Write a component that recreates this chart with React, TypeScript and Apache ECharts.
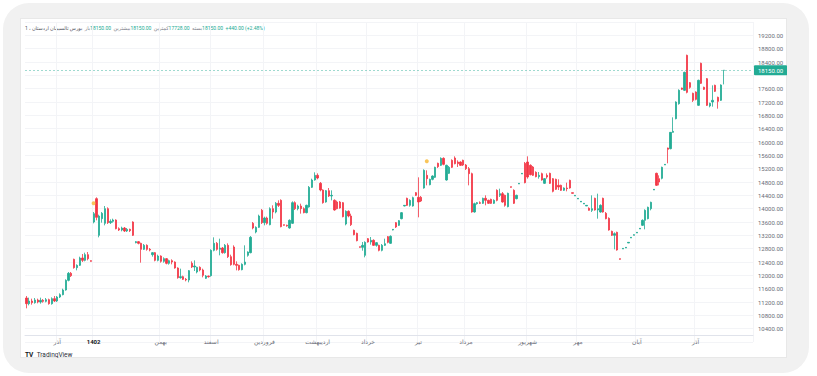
import React, { useEffect, useRef } from 'react';
import * as echarts from 'echarts';

// [open, close, low, high]
const barsBeforeAzar = [
  [11320, 11150, 11010, 11380], [11150, 11230, 11100, 11330], [11230, 11180, 11120, 11300],
  [11180, 11260, 11150, 11320], [11260, 11200, 11160, 11300], [11200, 11250, 11150, 11330],
  [11250, 11220, 11180, 11290], [11220, 11270, 11190, 11320], [11270, 11150, 11120, 11300],
  [11150, 11300, 11120, 11340], [11300, 11230, 11200, 11380],
];
const barsAzar = [
  [11230, 11350, 11200, 11380], [11350, 11420, 11320, 11460], [11420, 11560, 11400, 11600],
  [11560, 11850, 11540, 11880], [11850, 12060, 11820, 12100], [12060, 11990, 11950, 12100],
  [12480, 12230, 12200, 12500], [12230, 12300, 12150, 12330], [12300, 12520, 12280, 12560],
  [12520, 12450, 12400, 12640], [12450, 12620, 12420, 12680], [12620, 12500, 12450, 12700],
  [12440, 12420, 12410, 12450],
];
const barsDey = [
  [13600, 13850, 13560, 13900], [14300, 13740, 13650, 14340], [13200, 13780, 13140, 13820],
  [13700, 13860, 13580, 13900], [13560, 14000, 13500, 14080], [14000, 13580, 13540, 14040],
  [13580, 13620, 13540, 13680], [13620, 13660, 13580, 13700], [13660, 13400, 13380, 13680],
  [13400, 13360, 13330, 13440], [13360, 13420, 13320, 13460], [13420, 13330, 13300, 13450],
  [13330, 13380, 13300, 13420], [13380, 13340, 13300, 13400], [13600, 13200, 13180, 13620],
  [12980, 13010, 12960, 13030], [13010, 12960, 12930, 13030], [12960, 12780, 12380, 12980],
  [12780, 12900, 12760, 12940], [12900, 12780, 12740, 12930], [12780, 12760, 12720, 12820],
  [12620, 12680, 12560, 12700], [12680, 12450, 12420, 12700], [12450, 12580, 12420, 12620],
];
const barsBahman = [
  [12580, 12420, 12380, 12600], [12420, 12500, 12380, 12540], [12500, 12360, 12330, 12520],
  [12360, 12440, 12320, 12470], [12440, 12400, 12330, 12480], [12400, 12220, 12200, 12420],
  [12220, 11930, 11900, 12240], [11930, 11960, 11900, 12200], [11960, 11880, 11860, 11990],
  [11880, 11860, 11820, 11920], [11860, 12140, 11790, 12160], [12360, 12250, 12220, 12420],
  [12250, 12280, 12130, 12450], [12100, 12240, 12060, 12260], [12240, 12160, 12120, 12270],
  [12160, 12000, 11940, 12200], [11910, 11980, 11890, 12010], [11980, 11960, 11930, 11990],
];
const barsEsfand = [
  [11990, 12750, 11960, 12780], [12750, 12960, 12720, 13140], [12960, 12780, 12740, 13000],
  [12780, 12820, 12600, 13100], [12820, 12680, 12650, 12850], [12680, 12900, 12650, 12940],
  [12900, 12560, 12520, 12960], [12560, 12320, 12290, 12620], [12850, 12330, 12300, 12900],
  [12330, 12300, 12150, 12420], [12300, 12170, 12140, 12320], [12170, 12330, 12150, 12360],
  [12330, 12400, 12300, 12900], [12600, 12700, 12560, 12720], [12680, 13140, 12660, 13180],
  [13560, 13420, 13380, 13600], [13300, 13440, 13260, 13470], [13440, 13780, 13420, 13820],
  [13950, 13580, 13540, 13990],
];
const barsFarvardin = [
  [13580, 13720, 13500, 13760], [13720, 13560, 13520, 13760], [13520, 14000, 13500, 14040],
  [14000, 13900, 13700, 14100], [13900, 14160, 13860, 14200], [14160, 14100, 14050, 14250],
  [14250, 13460, 13440, 14280], [13520, 13500, 13490, 13520], [13500, 13480, 13460, 13520],
  [13420, 13650, 13400, 13680], [13560, 14180, 13540, 14220], [14180, 14000, 13960, 14220],
  [14000, 14080, 13950, 14120], [14080, 14000, 13850, 14150], [14000, 13880, 13860, 14040],
  [13880, 14100, 13860, 14120], [14050, 14640, 14030, 14680], [14640, 14860, 14620, 14900],
  [14860, 15000, 14840, 15090],
];
const barsOrdibehesht = [
  [15000, 14920, 14880, 15060], [14760, 14560, 14520, 14800], [14560, 14180, 14150, 14580],
  [14200, 14540, 14180, 14560], [14540, 14380, 14350, 14620], [14380, 14400, 14250, 14550],
  [14250, 13960, 13940, 14280], [14200, 14000, 13980, 14240], [14200, 14020, 14000, 14230],
  [14180, 13760, 13740, 14200], [13540, 13920, 13500, 13950], [13920, 13780, 13740, 13950],
  [13780, 13520, 13480, 13850], [13350, 13220, 13200, 13370], [13260, 13040, 13020, 13280],
  [12860, 12840, 12830, 12860], [12840, 12900, 12740, 13000], [12600, 12990, 12540, 13020],
];
const barsKhordad = [
  [13100, 13000, 12980, 13120], [13000, 13050, 12920, 13150], [13050, 12900, 12880, 13080],
  [12900, 12980, 12860, 13000], [12900, 12750, 12720, 12920], [12750, 12900, 12720, 12940],
  [12900, 12950, 12880, 13100], [13160, 12990, 12960, 13180], [12960, 13170, 12940, 13200],
  [13360, 13380, 13350, 13390], [13580, 13450, 13420, 13600], [13500, 13640, 13480, 13660],
  [13700, 13880, 13680, 13900], [14080, 14100, 14070, 14110], [14310, 14100, 14080, 14330],
  [14100, 14250, 14060, 14280], [14080, 14330, 14060, 14360], [14480, 14400, 14380, 14500],
];
const barsTir = [
  [14340, 14200, 13740, 14940], [14340, 14230, 14200, 14380], [14620, 15150, 14600, 15180],
  [15000, 14900, 14700, 15150], [14720, 14880, 14700, 14900], [14880, 14980, 14850, 15000],
  [14940, 15240, 14920, 15260], [15360, 15260, 15220, 15380], [15300, 15510, 15280, 15540],
  [15510, 15330, 15300, 15540], [14860, 15300, 14840, 15320], [15060, 15240, 15040, 15280],
  [15450, 15240, 15220, 15480], [15520, 15350, 15330, 15570], [15400, 15350, 15250, 15450],
  [15400, 15300, 15280, 15420], [15450, 15310, 15280, 15470],
];
const barsMordad = [
  [15310, 15200, 15160, 15340], [15200, 15050, 14700, 15250], [15050, 13900, 13880, 15080],
  [13900, 14150, 13880, 14180], [14150, 14180, 14120, 14200], [14180, 14160, 14140, 14220],
  [14160, 14310, 14140, 14330], [14310, 14250, 14100, 14400], [14250, 14160, 14140, 14270],
  [14280, 14160, 14140, 14300], [14160, 14250, 14140, 14280], [14550, 14250, 14220, 14580],
  [14400, 14450, 14350, 14600], [14450, 14200, 14180, 14500], [14400, 14100, 14060, 14420],
  [14060, 14460, 14040, 14480], [14660, 14640, 14630, 14660], [14550, 14160, 14140, 14580],
  [14300, 14400, 14280, 14420], [14740, 14760, 14740, 14770], [15040, 15060, 15040, 15070],
  [15360, 14780, 14760, 15400],
];
const barsShahrivar = [
  [15400, 14950, 14900, 15570], [15300, 15020, 15000, 15330], [15250, 15000, 14980, 15280],
  [15090, 14960, 14940, 15120], [14960, 15000, 14900, 15100], [15050, 14860, 14840, 15080],
  [14760, 14900, 14740, 14920], [15000, 14950, 14900, 15060], [15060, 14760, 14740, 15080],
  [14900, 14520, 14490, 14920], [14880, 14580, 14560, 14900], [14700, 14650, 14560, 14880],
  [14700, 14550, 14530, 14720], [14550, 14620, 14530, 14640], [14620, 14600, 14520, 14780],
  [14850, 14620, 14600, 14870], [14480, 14460, 14450, 14480], [14380, 14400, 14380, 14410],
];
const barsMehr = [
  [14290, 14310, 14290, 14320], [14200, 14220, 14200, 14230], [14140, 14160, 14140, 14170],
  [14080, 14100, 14080, 14110], [14010, 13950, 13940, 14040], [13950, 14000, 13900, 14400],
  [14310, 13960, 13940, 14330], [13960, 14000, 13700, 14450], [13900, 14100, 13880, 14130],
  [14310, 13900, 13880, 14330], [13860, 13700, 13680, 13900], [13710, 13360, 13340, 13740],
  [13320, 13200, 13180, 13340], [13200, 13250, 12780, 13290], [13290, 12760, 12740, 13310],
  [12500, 12480, 12470, 12500], [12790, 12810, 12790, 12820], [12820, 12840, 12820, 12850],
  [12970, 12990, 12970, 13000], [13120, 13140, 13120, 13150], [13200, 13220, 13200, 13230],
];
const barsAban = [
  [13270, 13290, 13270, 13300], [13390, 13410, 13390, 13420], [13500, 13650, 13480, 13680],
  [13650, 13950, 13380, 13980], [13700, 14040, 13680, 14060], [14000, 14190, 13950, 14210],
  [14560, 14580, 14560, 14590], [15060, 14700, 14680, 15080], [14900, 14800, 14700, 15000],
  [14910, 15240, 14880, 15260], [15310, 15330, 15310, 15340], [15820, 15780, 15360, 15830],
  [15800, 16290, 15780, 16300], [16290, 16320, 16280, 16740], [16700, 17200, 16680, 17220],
  [17150, 17550, 17120, 17580], [17620, 17580, 17560, 17630], [17550, 18090, 17530, 18110],
  [18600, 17490, 17460, 18620], [17780, 17640, 17600, 17800], [17460, 17250, 17200, 17480],
];
const barsAzar2 = [
  [17500, 17280, 17250, 17520], [17100, 17850, 17080, 17870], [18360, 17760, 17740, 18380],
  [17640, 17580, 17560, 17660], [17900, 17100, 17080, 17920], [17080, 17160, 17040, 17180],
  [17200, 17250, 17060, 17700], [17700, 17520, 17500, 17720], [17340, 17220, 17000, 17360],
  [17250, 17710, 17230, 17730], [18150, 18150, 17728, 18150],
];

const monthTicks: [number, string][] = [
  [11, 'آذر'], [24, '1402'], [48, 'بهمن'], [66, 'اسفند'], [85, 'فروردین'],
  [104, 'اردیبهشت'], [122, 'خرداد'], [140, 'تیر'], [157, 'مرداد'], [179, 'شهریور'],
  [197, 'مهر'], [218, 'آبان'], [239, 'آذر'],
];
const yearLabels = ['1402'];
const totalSlots = 260;
const eventMarks = [[24, 14160], [143, 15420]];
const lastPrice = 18150;
const hiddenPriceLabel = 18000; // covered by the last-price tag

const titleText = 'بورس تالسیمان اردستان ، 1';
const legendItems: [string, string][] = [
  ['باز', '18150.00'], ['بیشترین', '18150.00'], ['کمترین', '17728.00'], ['بسته', '18150.00'],
];
const changeText = '+440.00 (+2.48%)';

const UP = '#22ab94';
const DOWN = '#f23645';
const FONT = 'Roboto, "DejaVu Sans", sans-serif';

export default function App() {
  const ref = useRef<HTMLDivElement>(null);
  useEffect(() => {
    if (!ref.current) return;
    const chart = echarts.init(ref.current, null, { renderer: 'svg' });
    const bars = [
      ...barsBeforeAzar, ...barsAzar, ...barsDey, ...barsBahman, ...barsEsfand, ...barsFarvardin,
      ...barsOrdibehesht, ...barsKhordad, ...barsTir, ...barsMordad, ...barsShahrivar, ...barsMehr,
      ...barsAban, ...barsAzar2,
    ];
    const labelMap: Record<number, string> = {};
    monthTicks.forEach(([i, l]) => { labelMap[i] = l; });
    const cats = Array.from({ length: totalSlots }, (_, i) => String(i));

    let legend = `{t|${titleText}}  `;
    legendItems.forEach(([l, v]) => { legend += `{l|${l}}{v|${v}}  `; });
    legend += `{v|${changeText}}`;

    chart.setOption({
      animation: false,
      grid: { left: 5, right: 34, top: 4, bottom: 16 },
      xAxis: {
        type: 'category',
        data: cats,
        boundaryGap: true,
        offset: -7,
        axisLine: { show: true, lineStyle: { color: '#e0e3eb', width: 1 } },
        axisTick: { show: false },
        axisLabel: {
          interval: (i: number) => labelMap[i] !== undefined,
          formatter: (_v: string, i: number) => {
            const l = labelMap[i];
            if (l === undefined) return '';
            return yearLabels.includes(l) ? `{b|${l}}` : l;
          },
          color: '#6a6d78',
          fontSize: 6,
          fontFamily: FONT,
          margin: 3,
          rich: { b: { fontWeight: 'bold', color: '#131722', fontSize: 6, fontFamily: FONT } },
        },
        splitLine: {
          show: true,
          interval: (i: number) => labelMap[i] !== undefined,
          lineStyle: { color: '#f3f4f7', width: 1 },
        },
      },
      yAxis: {
        type: 'value',
        position: 'right',
        min: 10000,
        max: 19600,
        interval: 400,
        axisLine: { show: false },
        axisTick: { show: false },
        axisLabel: {
          formatter: (v: number) => (v === hiddenPriceLabel ? '' : v.toFixed(2)),
          color: '#6a6d78',
          fontSize: 6,
          fontFamily: FONT,
          margin: 5,
          showMinLabel: false,
          showMaxLabel: false,
        },
        splitLine: { show: true, lineStyle: { color: '#f3f4f7', width: 1 } },
      },
      series: [
        {
          type: 'candlestick',
          data: bars,
          barWidth: 1.7,
          itemStyle: {
            color: UP, color0: DOWN, borderColor: UP, borderColor0: DOWN, borderWidth: 0.8,
          },
          markLine: {
            silent: true,
            symbol: ['none', 'none'],
            data: [{ yAxis: lastPrice }],
            lineStyle: { color: 'rgba(34,171,148,0.55)', type: [2, 2], width: 0.8 },
            label: {
              position: 'end',
              distance: 1,
              formatter: lastPrice.toFixed(2),
              color: '#ffffff',
              backgroundColor: UP,
              fontSize: 6,
              fontFamily: FONT,
              padding: [2, 4, 2, 4],
              borderRadius: 1,
            },
          },
        },
        {
          type: 'scatter',
          data: eventMarks,
          symbolSize: 4,
          itemStyle: { color: '#f7b731' },
          z: 5,
        },
      ],
      graphic: [
        {
          type: 'text',
          left: 5,
          top: 7,
          style: {
            text: legend,
            fontSize: 5,
            fontFamily: FONT,
            rich: {
              t: { fill: '#50535e', fontSize: 5, fontFamily: FONT },
              l: { fill: '#787b86', fontSize: 5, fontFamily: FONT },
              v: { fill: UP, fontSize: 5, fontFamily: FONT },
            },
          },
        },
        {
          type: 'text',
          left: 5,
          top: 331,
          style: {
            text: '{logo|TV} {n|TradingView}',
            rich: {
              logo: { fill: '#131722', fontSize: 6.5, fontWeight: 'bold', fontFamily: FONT, lineHeight: 8, verticalAlign: 'middle' },
              n: { fill: '#2a2e39', fontSize: 6.5, fontFamily: FONT, lineHeight: 8, verticalAlign: 'middle' },
            },
          },
        },
      ],
    });
    return () => chart.dispose();
  }, []);

  return (
    <div style={{ position: 'fixed', left: 0, top: 0, width: 817, height: 376, background: '#ffffff', overflow: 'hidden' }}>
      <div style={{ position: 'absolute', left: 3, top: 3, width: 806, height: 370, background: '#f1f1f1', borderRadius: 26 }} />
      <div style={{ position: 'absolute', left: 20, top: 18, width: 767, height: 340, background: '#ffffff', border: '1px solid #e8e8e8', boxSizing: 'border-box' }} />
      <div ref={ref} style={{ position: 'absolute', left: 20, top: 18, width: 767, height: 340 }} />
    </div>
  );
}
